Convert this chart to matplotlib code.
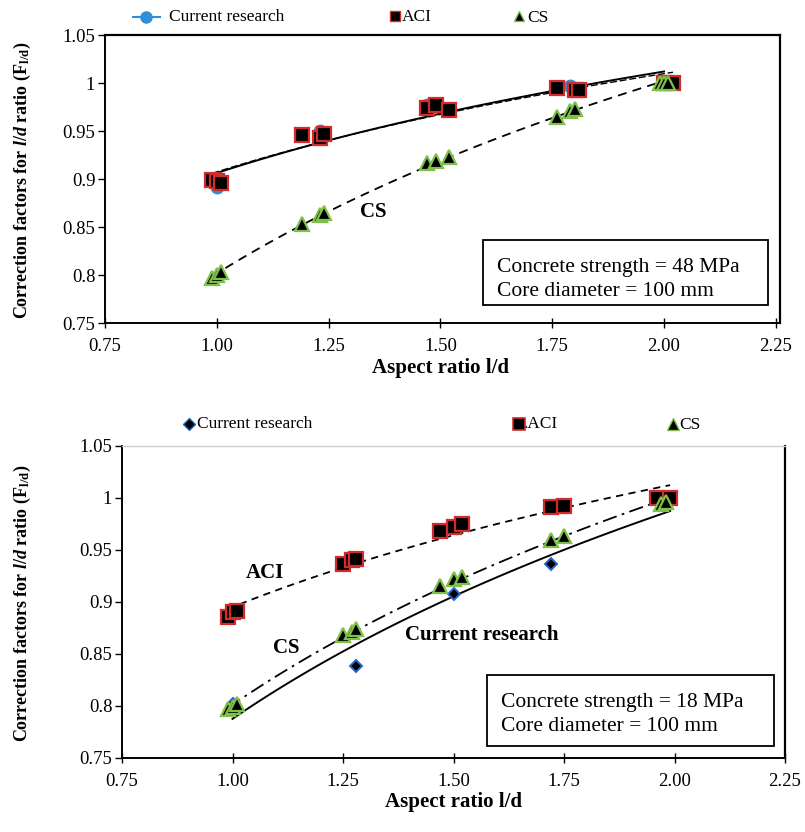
import numpy as np
import matplotlib
matplotlib.use("Agg")
import matplotlib.pyplot as plt
from matplotlib.lines import Line2D
from matplotlib.patches import Rectangle

plt.rcParams['font.family'] = ['Liberation Serif', 'DejaVu Serif']
plt.rcParams['mathtext.fontset'] = 'custom'
plt.rcParams['mathtext.rm'] = 'Liberation Serif:bold'
plt.rcParams['mathtext.it'] = 'Liberation Serif:italic:bold'
plt.rcParams['mathtext.bf'] = 'Liberation Serif:bold'

# ---- 48 MPa specimens ----
top_cur_x = [1.00, 1.23, 1.47, 1.79, 2.00]
top_cur_y = [0.892, 0.950, 0.977, 0.997, 1.000]
top_aci_x = [0.99, 1.00, 1.01, 1.19, 1.23, 1.24, 1.47, 1.49, 1.52, 1.76, 1.80, 1.81, 2.00, 2.02]
top_aci_y = [0.899, 0.898, 0.896, 0.946, 0.943, 0.947, 0.974, 0.977, 0.972, 0.995, 0.993, 0.993, 1.000, 1.000]
top_cs_x = [0.99, 1.00, 1.01, 1.19, 1.23, 1.24, 1.47, 1.49, 1.52, 1.76, 1.79, 1.80, 1.99, 2.00, 2.01]
top_cs_y = [0.797, 0.800, 0.803, 0.853, 0.862, 0.865, 0.917, 0.919, 0.923, 0.965, 0.971, 0.973, 1.000, 1.000, 1.000]

# ---- 18 MPa specimens ----
bot_cur_x = [1.00, 1.28, 1.50, 1.72, 1.99]
bot_cur_y = [0.802, 0.838, 0.908, 0.937, 1.000]
bot_aci_x = [0.99, 1.00, 1.01, 1.25, 1.27, 1.28, 1.47, 1.50, 1.52, 1.72, 1.75, 1.96, 1.99]
bot_aci_y = [0.886, 0.890, 0.891, 0.937, 0.940, 0.941, 0.968, 0.972, 0.975, 0.991, 0.992, 1.000, 1.000]
bot_cs_x = [0.99, 1.00, 1.01, 1.25, 1.27, 1.28, 1.47, 1.50, 1.52, 1.72, 1.75, 1.97, 1.98]
bot_cs_y = [0.797, 0.799, 0.802, 0.868, 0.871, 0.874, 0.915, 0.922, 0.924, 0.960, 0.963, 0.994, 0.996]

x_ticks = [0.75, 1.00, 1.25, 1.50, 1.75, 2.00, 2.25]
x_tick_labels = ['0.75', '1.00', '1.25', '1.50', '1.75', '2.00', '2.25']
y_ticks = [0.75, 0.80, 0.85, 0.90, 0.95, 1.00, 1.05]
y_tick_labels = ['0.75', '0.8', '0.85', '0.9', '0.95', '1', '1.05']

W, H = 805, 832
fig = plt.figure(figsize=(W / 100, H / 100), dpi=100)


def fx(px):
    return px / W


def fy(py):
    return 1 - py / H


RED = '#d42a2a'
GREEN = '#7fc04a'
BLUE_C = '#2f8fd8'
BLUE_D = '#2266cc'

sq = dict(marker='s', ms=9.5, mfc='black', mec=RED, mew=1.6, ls='none', zorder=4)
tri = dict(marker='^', ms=10, mfc='black', mec=GREEN, mew=1.6, ls='none', zorder=5)
circ = dict(marker='o', ms=9, mfc=BLUE_C, mec=BLUE_C, ls='none', zorder=3)
dia = dict(marker='D', ms=6.5, mfc='black', mec=BLUE_D, mew=1.4, ls='none', zorder=3)


def log_fit(x, y):
    x = np.asarray(x)
    a, b = np.polyfit(np.log(x), np.asarray(y), 1)
    xs = np.linspace(x.min(), x.max(), 100)
    return xs, a * np.log(xs) + b


def style_axes(ax, xmax, top_color='black'):
    ax.set_xlim(0.75, xmax)
    ax.set_ylim(0.75, 1.05)
    ax.set_xticks(x_ticks)
    ax.set_xticklabels(x_tick_labels)
    ax.set_yticks(y_ticks)
    ax.set_yticklabels(y_tick_labels)
    ax.tick_params(axis='x', direction='inout', length=7, width=1.0, labelsize=13.5, pad=7)
    ax.tick_params(axis='y', direction='out', length=5, width=1.0, labelsize=13.5, pad=2)
    for s in ax.spines.values():
        s.set_linewidth(1.4)
    ax.spines['top'].set_color(top_color)
    ax.spines['top'].set_linewidth(1.0 if top_color != 'black' else 1.6)
    ax.spines['right'].set_linewidth(1.6)


def info_box(ax, x0, x1, y0, y1, lines, tx, ty):
    ax.add_patch(Rectangle((x0, y0), x1 - x0, y1 - y0, facecolor='white',
                           edgecolor='black', lw=1.3, zorder=6))
    for t, yy in zip(lines, ty):
        ax.text(tx, yy, t, fontsize=15.5, va='center', ha='left', zorder=7)


ylabel = r'Correction factors for $\mathit{l/d}$ ratio (F$_{\mathbf{l/d}}$)'

# ================= Top panel =================
ax1 = fig.add_axes([fx(105), fy(323), fx(780) - fx(105), fy(35) - fy(323)])
style_axes(ax1, 0.75 + (780 - 105) * 0.25 / 111.8)

xs, ys = log_fit(top_cur_x, top_cur_y)
ax1.plot(xs, ys, color='black', lw=1.4, zorder=2)
xs, ys = log_fit(top_aci_x, top_aci_y)
ax1.plot(xs, ys, color='black', lw=1.0, ls=(0, (5, 2)), zorder=2)
xs, ys = log_fit(top_cs_x, top_cs_y)
ax1.plot(xs, ys, color='black', lw=1.3, ls=(0, (5, 3.5)), zorder=2)

ax1.plot(top_cur_x, top_cur_y, **circ)
ax1.plot(top_aci_x, top_aci_y, **sq)
ax1.plot(top_cs_x, top_cs_y, **tri)

ax1.text(1.349, 0.8656, 'CS', fontsize=15, fontweight='bold', ha='center', va='center')
info_box(ax1, 1.595, 2.232, 0.7687, 0.8365,
         ['Concrete strength = 48 MPa', 'Core diameter = 100 mm'], 1.627, [0.8073, 0.7823])

fig.text(fx(440), fy(368), 'Aspect ratio l/d', fontsize=15, fontweight='bold', ha='center', va='center')
fig.text(fx(22), fy(180), ylabel, fontsize=13, fontweight='bold', rotation=90,
         ha='center', va='center')

# top legend
fig.add_artist(Line2D([fx(133), fx(160)], [fy(17), fy(17)], color=BLUE_C, lw=1.5,
                      transform=fig.transFigure))
fig.add_artist(Line2D([fx(146)], [fy(17)], transform=fig.transFigure,
                      **dict(circ, ms=8)))
fig.text(fx(169), fy(17), 'Current research', fontsize=12.5, ha='left', va='center')
fig.add_artist(Line2D([fx(395)], [fy(16)], transform=fig.transFigure, **dict(sq, ms=7, mew=1.0)))
fig.text(fx(402), fy(17), 'ACI', fontsize=12.5, ha='left', va='center')
fig.add_artist(Line2D([fx(519)], [fy(16)], transform=fig.transFigure, **dict(tri, ms=7, mew=1.0)))
fig.text(fx(527), fy(18), 'CS', fontsize=12.5, ha='left', va='center')

# ================= Bottom panel =================
ax2 = fig.add_axes([fx(122), fy(758), fx(785) - fx(122), fy(446) - fy(758)])
style_axes(ax2, 0.75 + (785 - 122) * 0.25 / 110.6, top_color='#cfcfcf')

xs, ys = log_fit(bot_cur_x, bot_cur_y)
ax2.plot(xs, ys, color='black', lw=1.4, zorder=2)
xs, ys = log_fit(bot_aci_x, bot_aci_y)
ax2.plot(xs, ys, color='black', lw=1.3, ls=(0, (4, 3)), zorder=2)
xs, ys = log_fit(bot_cs_x, bot_cs_y)
ax2.plot(xs, ys, color='black', lw=1.3, ls=(0, (8, 3, 1.5, 3)), zorder=2)

ax2.plot(bot_cur_x, bot_cur_y, **dia)
ax2.plot(bot_aci_x, bot_aci_y, **sq)
ax2.plot(bot_cs_x, bot_cs_y, **tri)

ax2.text(1.073, 0.928, 'ACI', fontsize=15, fontweight='bold', ha='center', va='center')
ax2.text(1.121, 0.856, 'CS', fontsize=15, fontweight='bold', ha='center', va='center')
ax2.text(1.564, 0.868, 'Current research', fontsize=15, fontweight='bold', ha='center', va='center')
info_box(ax2, 1.575, 2.224, 0.762, 0.830,
         ['Concrete strength = 18 MPa', 'Core diameter = 100 mm'], 1.607, [0.803, 0.780])

fig.text(fx(453), fy(802), 'Aspect ratio l/d', fontsize=15, fontweight='bold', ha='center', va='center')
fig.text(fx(22), fy(603), ylabel, fontsize=13, fontweight='bold', rotation=90,
         ha='center', va='center')

# bottom legend
fig.add_artist(Line2D([fx(189)], [fy(424)], transform=fig.transFigure, **dict(dia, ms=6, mew=1.0)))
fig.text(fx(197), fy(424), 'Current research', fontsize=12.5, ha='left', va='center')
fig.add_artist(Line2D([fx(519)], [fy(424)], transform=fig.transFigure, **dict(sq, ms=8, mew=1.2)))
fig.text(fx(524), fy(424), '.ACI', fontsize=12.5, ha='left', va='center')
fig.add_artist(Line2D([fx(673)], [fy(424)], transform=fig.transFigure, **dict(tri, ms=8, mew=1.0)))
fig.text(fx(679), fy(425), 'CS', fontsize=12.5, ha='left', va='center')

fig.savefig('out.png', dpi=100, facecolor='white')
